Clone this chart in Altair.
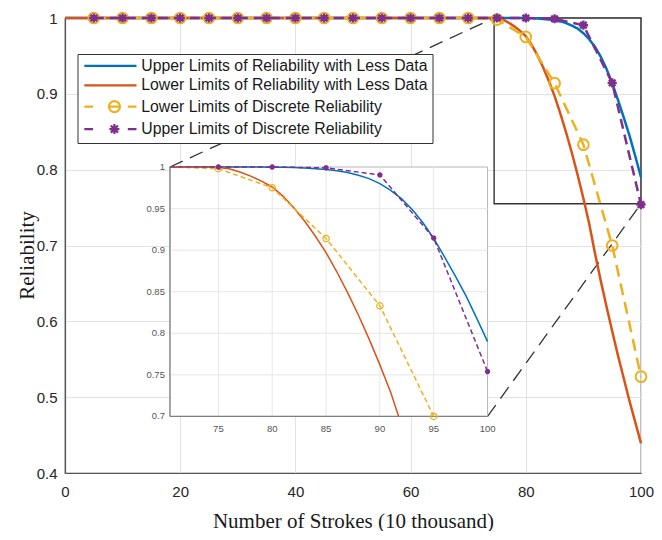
import altair as alt
import pandas as pd

# ---------------- data ----------------
names = [
    "Upper Limits of Reliability with Less Data",
    "Lower Limits of Reliability with Less Data",
    "Lower Limits of Discrete Reliability",
    "Upper Limits of Discrete Reliability",
]
colors = ["#0072BD", "#D95319", "#EDB120", "#7E2F8E"]

curve_x = [0, 70, 74, 75, 76, 77, 78, 79, 80, 81, 82, 83, 84, 85, 86, 87, 88,
           89, 90, 91, 92, 93, 94, 95, 96, 97, 98, 99, 100]
upper_less = [1, 1, 1, 1, 1, 1, 1, 1, 0.9998, 0.9996, 0.9993, 0.9988, 0.998,
              0.997, 0.9955, 0.9933, 0.990, 0.986, 0.980, 0.972, 0.962, 0.949,
              0.933, 0.914, 0.892, 0.869, 0.845, 0.818, 0.790]
lower_less = [1, 1, 1, 0.9995, 0.998, 0.994, 0.989, 0.983, 0.976, 0.965, 0.951,
              0.935, 0.917, 0.897, 0.874, 0.849, 0.822, 0.793, 0.762, 0.729,
              0.690, 0.654, 0.620, 0.587, 0.555, 0.525, 0.495, 0.467, 0.439]

disc_x = [5, 10, 15, 20, 25, 30, 35, 40, 45, 50, 55, 60, 65, 70, 75, 80, 85,
          90, 95, 100]
lower_disc = [1, 1, 1, 1, 1, 1, 1, 1, 1, 1, 1, 1, 1, 1, 0.998, 0.975, 0.914,
              0.833, 0.700, 0.527]
upper_disc = [1, 1, 1, 1, 1, 1, 1, 1, 1, 1, 1, 1, 1, 1, 1.0, 1.0, 0.999,
              0.9905, 0.9145, 0.754]

x_ticks = [0, 20, 40, 60, 80, 100]
y_ticks = [0.4, 0.5, 0.6, 0.7, 0.8, 0.9, 1.0]
inset_x_ticks = [75, 80, 85, 90, 95, 100]
inset_y_ticks = [0.7, 0.75, 0.8, 0.85, 0.9, 0.95, 1.0]

x_domain = [0, 100]
y_domain = [0.4, 1.0]
inset_x_domain = [70.5, 100]
inset_y_domain = [0.7, 1.0]
zoom_box_x = [74.5, 100]
zoom_box_y = [0.755, 1.0]
# where the inset sits, in main-plot data units
inset_at_x = [18.22, 73.36]
inset_at_y = [0.4746, 0.8035]

x_title = "Number of Strokes (10 thousand)"
y_title = "Reliability"

# ---------------- layout / style ----------------
W, H = 576, 455
FONT = "Liberation Sans"
SERIF = "Liberation Serif"

df_curves = pd.DataFrame({
    "series": [names[0]] * len(curve_x) + [names[1]] * len(curve_x),
    "x": curve_x + curve_x,
    "y": upper_less + lower_less,
})
df_disc = pd.DataFrame({
    "series": [names[2]] * len(disc_x) + [names[3]] * len(disc_x),
    "x": disc_x + disc_x,
    "y": lower_disc + upper_disc,
})

ASTER = "M-1,0L1,0M0,-1L0,1M-0.71,-0.71L0.71,0.71M-0.71,0.71L0.71,-0.71"
legend_paths = [
    "M-8.7,0L8.7,0",
    "M-8.7,0L8.7,0",
    "M-8.7,0L-5.8,0M-0.5,0L3.17,0M3.17,0A1.83,1.83,0,1,1,-0.5,0A1.83,1.83,0,1,1,3.17,0M5.8,0L8.7,0",
    "M-8.7,0L-5.8,0M-0.34,0L3.0,0M1.33,-1.67L1.33,1.67M0.15,-1.18L2.51,1.18M0.15,1.18L2.51,-1.18M5.8,0L8.7,0",
]

mx_scale = alt.Scale(domain=x_domain, nice=False, zero=False)
my_scale = alt.Scale(domain=y_domain, nice=False, zero=False)
x_axis = alt.Axis(values=x_ticks, title=x_title, grid=True, ticks=False,
                  labelPadding=11, labelFlush=False, format="d",
                  titleY=54, titleBaseline="alphabetic")
y_axis = alt.Axis(values=y_ticks, title=y_title, grid=True, ticks=False,
                  labelPadding=8, format=".1~f", titleX=-32, titleY=237,
                  titleAngle=270, titleBaseline="alphabetic")


def MX(f="x"):
    return alt.X(f"{f}:Q", scale=mx_scale, axis=x_axis)


def MY(f="y"):
    return alt.Y(f"{f}:Q", scale=my_scale, axis=y_axis)


def px_x(v):
    return (v - x_domain[0]) / (x_domain[1] - x_domain[0]) * W


def px_y(v):
    return (y_domain[1] - v) / (y_domain[1] - y_domain[0]) * H


ix_scale = alt.Scale(domain=inset_x_domain, range=[px_x(inset_at_x[0]), px_x(inset_at_x[1])],
                     clamp=True, nice=False, zero=False)
iy_scale = alt.Scale(domain=inset_y_domain, range=[px_y(inset_at_y[0]), px_y(inset_at_y[1])],
                     nice=False, zero=False)


def IX(f="xc"):
    return alt.X(f"{f}:Q", scale=ix_scale, axis=None)


def IY(f="yc"):
    return alt.Y(f"{f}:Q", scale=iy_scale, axis=None)


# ---------------- main plot layers ----------------
df_box = pd.DataFrame({"x": [zoom_box_x[0]], "x2": [zoom_box_x[1]],
                       "y": [zoom_box_y[0]], "y2": [zoom_box_y[1]]})
box = alt.Chart(df_box).mark_rect(fill="transparent", stroke="#333333", strokeWidth=1.4).encode(
    x=MX(), x2=alt.X2("x2:Q"), y=MY(), y2=alt.Y2("y2:Q"))

df_conn = pd.DataFrame({
    "seg": ["a", "a", "b", "b"],
    "x": [zoom_box_x[0], inset_at_x[0], zoom_box_x[1], inset_at_x[1]],
    "y": [zoom_box_y[1], inset_at_y[1], zoom_box_y[0], inset_at_y[0]],
})
conn = alt.Chart(df_conn).mark_line(color="#333333", strokeWidth=1.3, strokeDash=[14, 8]).encode(
    x=MX(), y=MY(), detail="seg:N")


def main_line(df, i, width, dash=None):
    kw = dict(color=colors[i], strokeWidth=width)
    if dash:
        kw["strokeDash"] = dash
    return alt.Chart(df).transform_filter(alt.datum.series == names[i]).mark_line(**kw).encode(
        x=MX(), y=MY())


blue_main = main_line(df_curves, 0, 2.5)
orange_main = main_line(df_curves, 1, 2.5)
yellow_main = main_line(df_disc, 2, 2.5, [12, 7])
purple_main = main_line(df_disc, 3, 2.5, [10, 6])
yellow_pts = alt.Chart(df_disc).transform_filter(alt.datum.series == names[2]).mark_point(
    shape="circle", size=115, strokeWidth=2, color=colors[2], filled=False, opacity=1).encode(
    x=MX(), y=MY())
purple_pts = alt.Chart(df_disc).transform_filter(alt.datum.series == names[3]).mark_point(
    shape=ASTER, size=85, strokeWidth=2.4, color=colors[3], filled=False, opacity=1).encode(
    x=MX(), y=MY())

leg = alt.Legend(orient="none", legendX=12.5, legendY=36.0, title=None,
                 symbolSize=36, symbolStrokeWidth=2.2, symbolOffset=21,
                 labelOffset=23, labelFont=FONT, labelFontSize=15.8,
                 labelColor="#1a1a1a", padding=4, rowPadding=2.4,
                 fillColor="white", strokeColor="#333333", labelLimit=500,
                 symbolOpacity=1)
df_leg = pd.DataFrame({"series": names, "x": [50, 50, 50, 50], "y": [0.5, 0.5, 0.5, 0.5]})
legend_layer = alt.Chart(df_leg).transform_filter("false").mark_point(
    filled=False, opacity=1, strokeWidth=2.2).encode(
    x=MX(), y=MY(),
    color=alt.Color("series:N", scale=alt.Scale(domain=names, range=colors), legend=leg),
    shape=alt.Shape("series:N", scale=alt.Scale(domain=names, range=legend_paths), legend=leg),
)

main = alt.layer(box, conn, blue_main, orange_main, yellow_main, yellow_pts,
                 purple_main, purple_pts, legend_layer)

# ---------------- inset layers ----------------
lo_x, hi_x = inset_x_domain
lo_y, hi_y = inset_y_domain

df_bg = pd.DataFrame({"xc": [lo_x], "xc2": [hi_x], "yc": [lo_y], "yc2": [hi_y]})
bg = alt.Chart(df_bg).mark_rect(fill="white", stroke="#b5b5b5", strokeWidth=1).encode(
    x=IX(), x2=alt.X2("xc2:Q"), y=IY(), y2=alt.Y2("yc2:Q"))

df_vgrid = pd.DataFrame({"xc": inset_x_ticks[:-1]})
vgrid = alt.Chart(df_vgrid).transform_calculate(yc=str(lo_y), yc2=str(hi_y)).mark_rule(
    color="#e6e6e6", strokeWidth=1).encode(x=IX(), y=IY(), y2=alt.Y2("yc2:Q"))
df_hgrid = pd.DataFrame({"yc": inset_y_ticks[1:-1]})
hgrid = alt.Chart(df_hgrid).transform_calculate(xc=str(lo_x), xc2=str(hi_x)).mark_rule(
    color="#e6e6e6", strokeWidth=1).encode(y=IY(), x=IX(), x2=alt.X2("xc2:Q"))

edge_left = alt.Chart(df_bg).mark_rule(color="#808080", strokeWidth=1.2).encode(
    x=IX(), y=IY(), y2=alt.Y2("yc2:Q"))
edge_bottom = alt.Chart(df_bg).mark_rule(color="#808080", strokeWidth=1.2).encode(
    x=IX(), x2=alt.X2("xc2:Q"), y=IY())


def inset_line(df, i, width, dash=None):
    kw = dict(color=colors[i], strokeWidth=width)
    if dash:
        kw["strokeDash"] = dash
    return (alt.Chart(df)
            .transform_filter(alt.datum.series == names[i])
            .transform_window(window=[alt.WindowFieldDef(op="lag", field="x", **{"as": "px"}),
                                      alt.WindowFieldDef(op="lag", field="y", **{"as": "py"})],
                              sort=[alt.SortField(field="x", order="ascending")])
            .transform_calculate(
                xc=f"datum.y >= {lo_y} ? datum.x : datum.px + ({lo_y} - datum.py) * (datum.x - datum.px) / (datum.y - datum.py)",
                yc=f"max(datum.y, {lo_y})")
            .transform_filter(f"datum.y >= {lo_y} || (isValid(datum.py) && datum.py >= {lo_y})")
            .mark_line(**kw).encode(x=IX(), y=IY()))


def inset_points(df, i, **kw):
    return (alt.Chart(df)
            .transform_filter(alt.datum.series == names[i])
            .transform_filter(f"datum.y >= {lo_y} && datum.x >= {lo_x}")
            .transform_calculate(xc="datum.x", yc="datum.y")
            .mark_point(color=colors[i], opacity=1, filled=False, **kw)
            .encode(x=IX(), y=IY()))


blue_in = inset_line(df_curves, 0, 1.5)
orange_in = inset_line(df_curves, 1, 1.5)
yellow_in = inset_line(df_disc, 2, 1.5, [5, 3])
purple_in = inset_line(df_disc, 3, 1.5, [5, 3])
yellow_in_pts = inset_points(df_disc, 2, shape="circle", size=40, strokeWidth=1.3)
purple_in_pts = inset_points(df_disc, 3, shape=ASTER, size=28, strokeWidth=1.8)

df_ixl = pd.DataFrame({"xc": inset_x_ticks})
ix_labels = alt.Chart(df_ixl).transform_calculate(yc=str(lo_y)).mark_text(
    dy=13, fontSize=9.5, font=FONT, color="#555555", align="center", baseline="middle").encode(
    x=IX(), y=IY(), text=alt.Text("xc:Q", format="d"))
df_iyl = pd.DataFrame({"yc": inset_y_ticks})
iy_labels = alt.Chart(df_iyl).transform_calculate(xc=str(lo_x)).mark_text(
    dx=-5, fontSize=9.5, font=FONT, color="#555555", align="right", baseline="middle").encode(
    x=IX(), y=IY(), text=alt.Text("yc:Q", format=".2~f"))

inset = alt.layer(bg, vgrid, hgrid, edge_left, edge_bottom, blue_in, orange_in,
                  yellow_in, yellow_in_pts, purple_in, purple_in_pts,
                  ix_labels, iy_labels)

chart = (
    alt.layer(main, inset)
    .resolve_scale(x="independent", y="independent")
    .properties(width=W, height=H, background="white",
                autosize=alt.AutoSizeParams(type="none"),
                padding={"left": 57, "top": 10, "right": 13, "bottom": 58})
    .configure_view(stroke="#3a3a3a", strokeWidth=1.2)
    .configure_axis(gridColor="#e2e2e2", gridWidth=1, domainColor="#555555",
                    domainWidth=1.2, labelFont=FONT, labelFontSize=15,
                    labelColor="#262626", titleFont=SERIF, titleFontSize=21,
                    titleFontWeight="normal", titleColor="#1a1a1a")
)

chart.save("out.html", embed_options={"renderer": "svg", "actions": False})
